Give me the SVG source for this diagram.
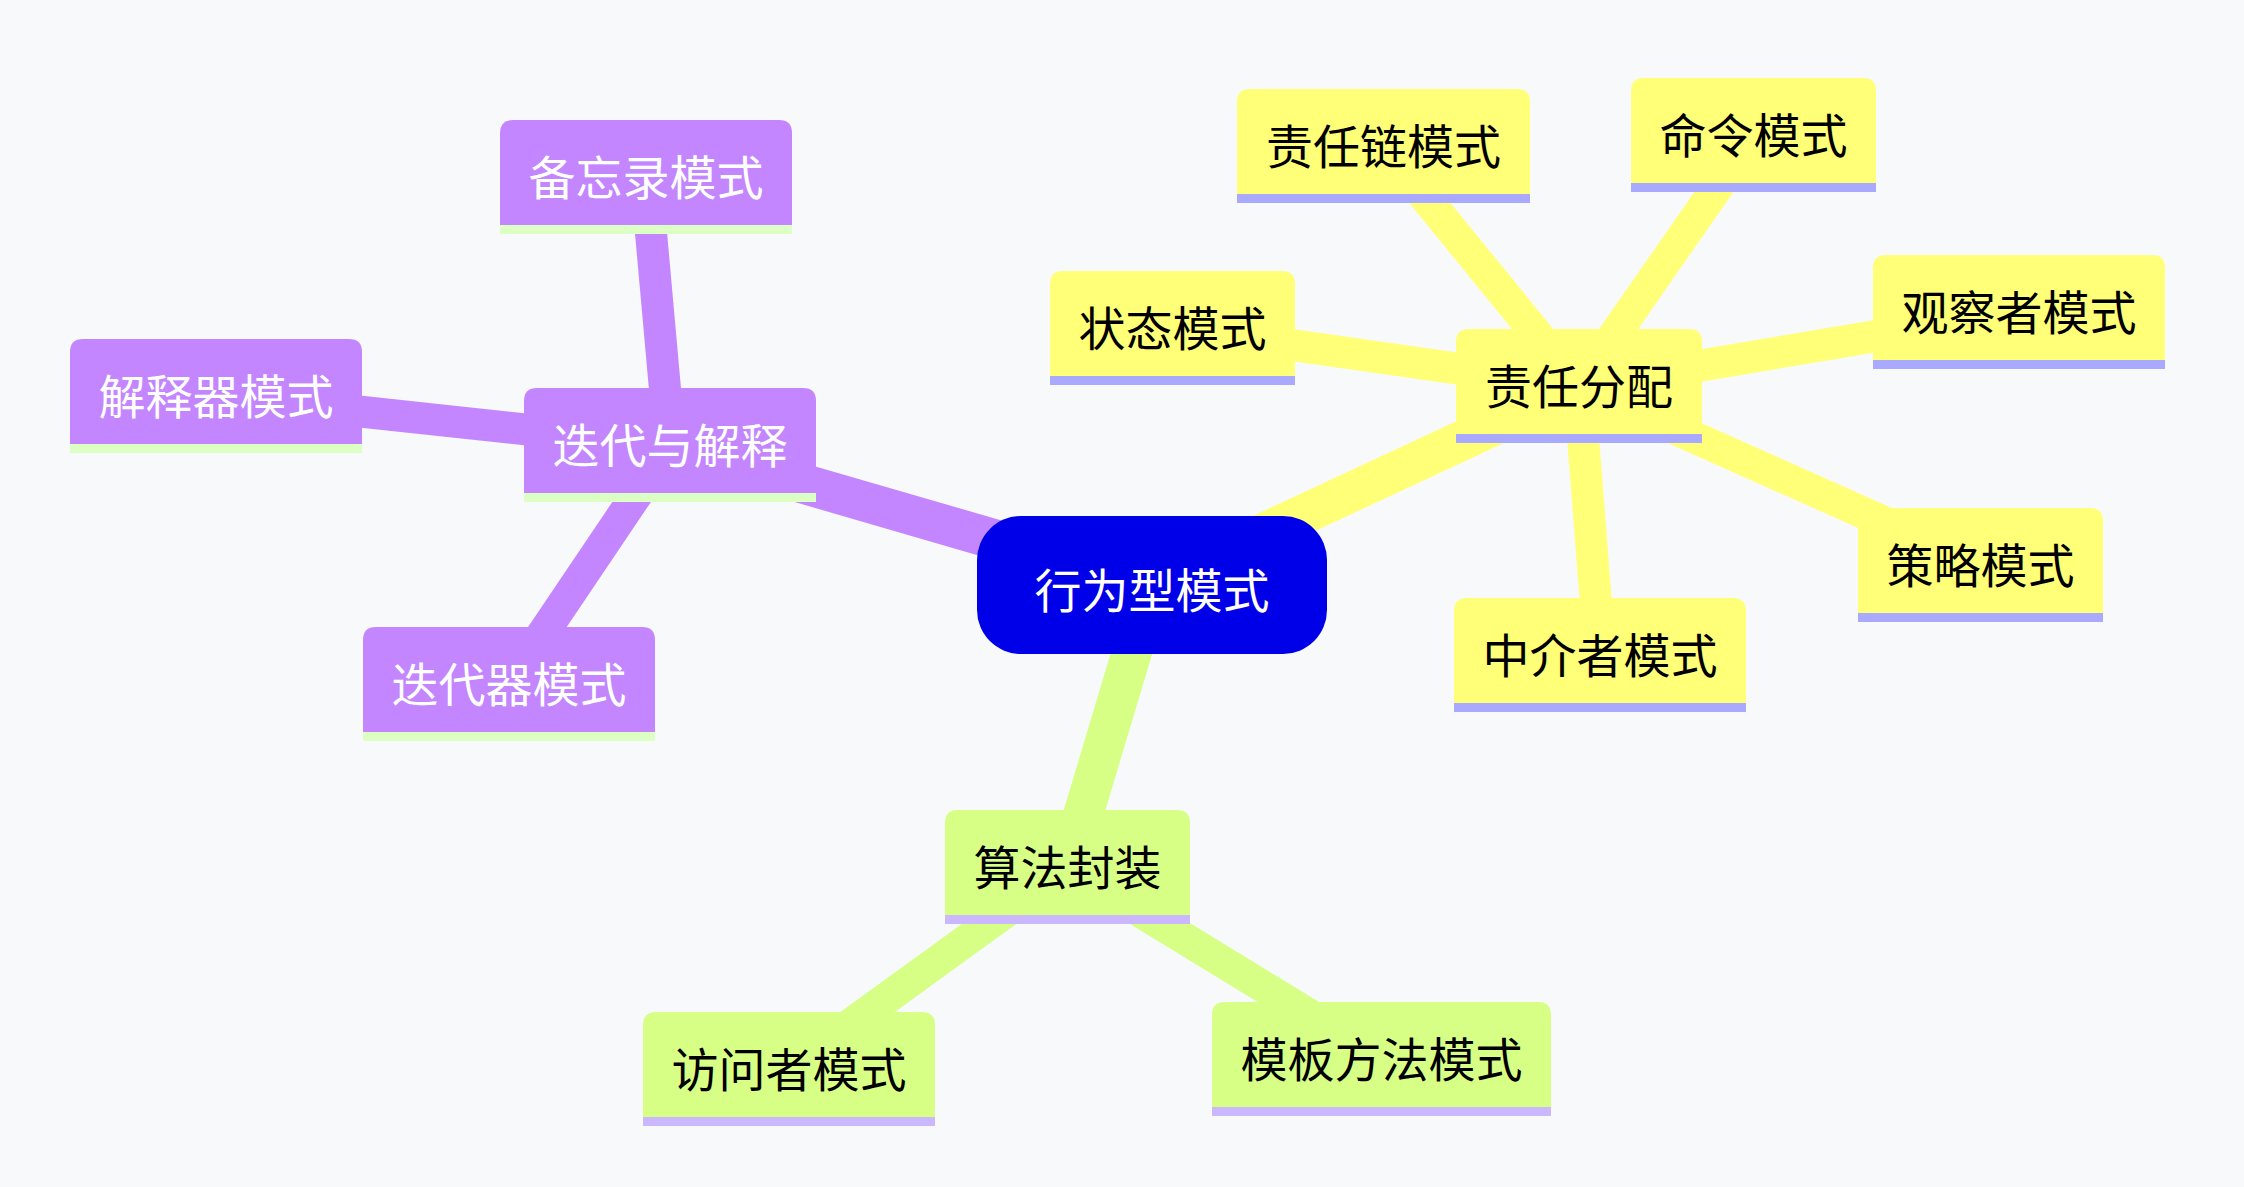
<svg xmlns="http://www.w3.org/2000/svg" width="2244" height="1187" viewBox="0 0 2244 1187">
<style>
text{font-family:"Noto Sans CJK SC","Noto Sans",sans-serif;font-size:47px;text-anchor:middle;dominant-baseline:central}
.e0{stroke-width:40;stroke-linecap:butt;fill:none}
.e1{stroke-width:32;stroke-linecap:butt;fill:none}
.p{stroke:#c386ff}.y{stroke:#ffff78}.g{stroke:#d7ff86}
.np{fill:#c386ff}.ny{fill:#ffff78}.ng{fill:#d7ff86}
.bp{fill:#dcffc4}.by{fill:#a9a9ff}.bg{fill:#cbb7fd}
.tw{fill:#ffffff}.tb{fill:#000000}
</style>
<rect width="2244" height="1187" fill="#f8f9fb"/>
<g id="connectors">
<line class="e0 p" x1="1152" y1="585" x2="670" y2="445"/>
<line class="e0 y" x1="1152" y1="585" x2="1579" y2="386"/>
<line class="e0 g" x1="1152" y1="585" x2="1067.5" y2="867"/>
<line class="e1 p" x1="670" y1="445" x2="646" y2="177"/>
<line class="e1 p" x1="670" y1="445" x2="216" y2="396"/>
<line class="e1 p" x1="670" y1="445" x2="509" y2="684"/>
<line class="e1 y" x1="1579" y1="386" x2="1383.5" y2="146"/>
<line class="e1 y" x1="1579" y1="386" x2="1753.5" y2="135"/>
<line class="e1 y" x1="1579" y1="386" x2="1172.5" y2="328"/>
<line class="e1 y" x1="1579" y1="386" x2="2019" y2="312"/>
<line class="e1 y" x1="1579" y1="386" x2="1980.5" y2="565"/>
<line class="e1 y" x1="1579" y1="386" x2="1600" y2="655"/>
<line class="e1 g" x1="1067.5" y1="867" x2="789" y2="1069"/>
<line class="e1 g" x1="1067.5" y1="867" x2="1381.5" y2="1059"/>
</g>
<g id="root">
<rect x="977" y="516" width="350" height="138" rx="44" fill="#0000e8"/>
<text class="tw" x="1152" y="587">行为型模式</text>
</g>
<g id="n-diedaiyujieshi" transform="translate(524,388)">
<path class="np" d="M0 105V13Q0 0 13 0H279Q292 0 292 13V105Z"/><rect class="bp" y="105" width="292" height="9"/>
<text class="tw" x="146" y="54">迭代与解释</text></g>
<g id="n-beiwanglu" transform="translate(500,120)">
<path class="np" d="M0 105V13Q0 0 13 0H279Q292 0 292 13V105Z"/><rect class="bp" y="105" width="292" height="9"/>
<text class="tw" x="146" y="54">备忘录模式</text></g>
<g id="n-jieshiqi" transform="translate(70,339)">
<path class="np" d="M0 105V13Q0 0 13 0H279Q292 0 292 13V105Z"/><rect class="bp" y="105" width="292" height="9"/>
<text class="tw" x="146" y="54">解释器模式</text></g>
<g id="n-diedaiqi" transform="translate(363,627)">
<path class="np" d="M0 105V13Q0 0 13 0H279Q292 0 292 13V105Z"/><rect class="bp" y="105" width="292" height="9"/>
<text class="tw" x="146" y="54">迭代器模式</text></g>
<g id="n-zerenfenpei" transform="translate(1456,329)">
<path class="ny" d="M0 105V13Q0 0 13 0H233Q246 0 246 13V105Z"/><rect class="by" y="105" width="246" height="9"/>
<text class="tb" x="123" y="54">责任分配</text></g>
<g id="n-zerenlian" transform="translate(1237,89)">
<path class="ny" d="M0 105V13Q0 0 13 0H280Q293 0 293 13V105Z"/><rect class="by" y="105" width="293" height="9"/>
<text class="tb" x="146.5" y="54">责任链模式</text></g>
<g id="n-mingling" transform="translate(1631,78)">
<path class="ny" d="M0 105V13Q0 0 13 0H232Q245 0 245 13V105Z"/><rect class="by" y="105" width="245" height="9"/>
<text class="tb" x="122.5" y="54">命令模式</text></g>
<g id="n-zhuangtai" transform="translate(1050,271)">
<path class="ny" d="M0 105V13Q0 0 13 0H232Q245 0 245 13V105Z"/><rect class="by" y="105" width="245" height="9"/>
<text class="tb" x="122.5" y="54">状态模式</text></g>
<g id="n-guanchazhe" transform="translate(1873,255)">
<path class="ny" d="M0 105V13Q0 0 13 0H279Q292 0 292 13V105Z"/><rect class="by" y="105" width="292" height="9"/>
<text class="tb" x="146" y="54">观察者模式</text></g>
<g id="n-celue" transform="translate(1858,508)">
<path class="ny" d="M0 105V13Q0 0 13 0H232Q245 0 245 13V105Z"/><rect class="by" y="105" width="245" height="9"/>
<text class="tb" x="122.5" y="54">策略模式</text></g>
<g id="n-zhongjiezhe" transform="translate(1454,598)">
<path class="ny" d="M0 105V13Q0 0 13 0H279Q292 0 292 13V105Z"/><rect class="by" y="105" width="292" height="9"/>
<text class="tb" x="146" y="54">中介者模式</text></g>
<g id="n-suanfafengzhuang" transform="translate(945,810)">
<path class="ng" d="M0 105V13Q0 0 13 0H232Q245 0 245 13V105Z"/><rect class="bg" y="105" width="245" height="9"/>
<text class="tb" x="122.5" y="54">算法封装</text></g>
<g id="n-fangwenzhe" transform="translate(643,1012)">
<path class="ng" d="M0 105V13Q0 0 13 0H279Q292 0 292 13V105Z"/><rect class="bg" y="105" width="292" height="9"/>
<text class="tb" x="146" y="54">访问者模式</text></g>
<g id="n-mubanfangfa" transform="translate(1212,1002)">
<path class="ng" d="M0 105V13Q0 0 13 0H326Q339 0 339 13V105Z"/><rect class="bg" y="105" width="339" height="9"/>
<text class="tb" x="169.5" y="54">模板方法模式</text></g>
</svg>
